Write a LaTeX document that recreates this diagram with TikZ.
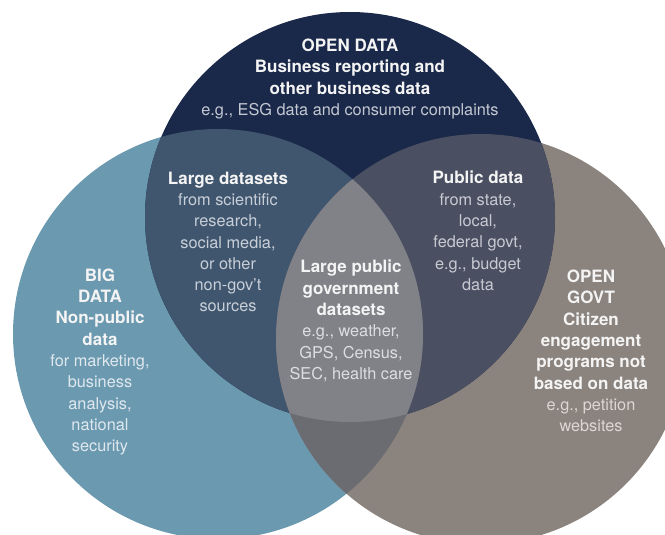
\documentclass[tikz,border=0pt]{standalone}
\usepackage{fontspec}
\setmainfont{TeX Gyre Heros}
\definecolor{cnavy}{HTML}{1A2849}
\definecolor{cblue}{HTML}{6A99B0}
\definecolor{cgray}{HTML}{8B837D}
\definecolor{cnb}{HTML}{40566E}
\definecolor{cng}{HTML}{4B4F62}
\definecolor{cbg}{HTML}{6A6C72}
\definecolor{call}{HTML}{808288}
\definecolor{headc}{HTML}{F4F4F4}
\definecolor{tnavy}{HTML}{C3C8D2}
\definecolor{tnb}{HTML}{C8CFD8}
\definecolor{tng}{HTML}{C8CAD2}
\definecolor{tall}{HTML}{DDDEE1}
\definecolor{tblue}{HTML}{E0E8EE}
\definecolor{tgray}{HTML}{DCD8D4}
\newcommand{\vh}[1]{{\bfseries\fontsize{17}{21.3}\selectfont\color{headc}#1}}
\tikzset{
  vtext/.style={align=center, inner sep=0pt, font=\fontsize{16.3}{21.3}\selectfont},
}
\begin{document}
\begin{tikzpicture}[x=1pt,y=-1pt]
\useasboundingbox (0,0) rectangle (665,535);
\clip (0,0) rectangle (665,535);
\coordinate (cT) at (350,217);
\coordinate (cL) at (218,334);
\coordinate (cR) at (481,339);
\def\R{205pt}
\fill[cblue] (cL) circle[radius=\R];
\fill[cgray] (cR) circle[radius=\R];
\fill[cnavy] (cT) circle[radius=\R];
\begin{scope}
  \clip (cT) circle[radius=\R];
  \fill[cnb] (cL) circle[radius=\R];
  \fill[cng] (cR) circle[radius=\R];
\end{scope}
\begin{scope}
  \clip (cL) circle[radius=\R];
  \fill[cbg] (cR) circle[radius=\R];
  \clip (cR) circle[radius=\R];
  \fill[call] (cT) circle[radius=\R];
\end{scope}

\node[vtext, text=tnavy] (top) at (350,79)
  {\vh{OPEN DATA}\\ \vh{Business reporting and}\\ \vh{other business data}\\ e.g., ESG data and consumer complaints};
\node[vtext, text=tnb] (nb) at (228,242)
  {\vh{Large datasets}\\ from scientific\\ research,\\ social media,\\ or other\\ non-gov't\\ sources};
\node[vtext, text=tng] (ng) at (478,231)
  {\vh{Public data}\\ from state,\\ local,\\ federal govt,\\ e.g., budget\\ data};
\node[vtext, text=tall] (mid) at (351,321)
  {\vh{Large public}\\ \vh{government}\\ \vh{datasets}\\ e.g., weather,\\ GPS, Census,\\ SEC, health care};
\node[vtext, text=tblue] (big) at (100,362)
  {\vh{BIG}\\ \vh{DATA}\\ \vh{Non-public}\\ \vh{data}\\ for marketing,\\ business\\ analysis,\\ national\\ security};
\node[vtext, text=tgray] (gov) at (591,351)
  {\vh{OPEN}\\ \vh{GOVT}\\ \vh{Citizen}\\ \vh{engagement}\\ \vh{programs not}\\ \vh{based on data}\\ e.g., petition\\ websites};
\end{tikzpicture}
\end{document}
